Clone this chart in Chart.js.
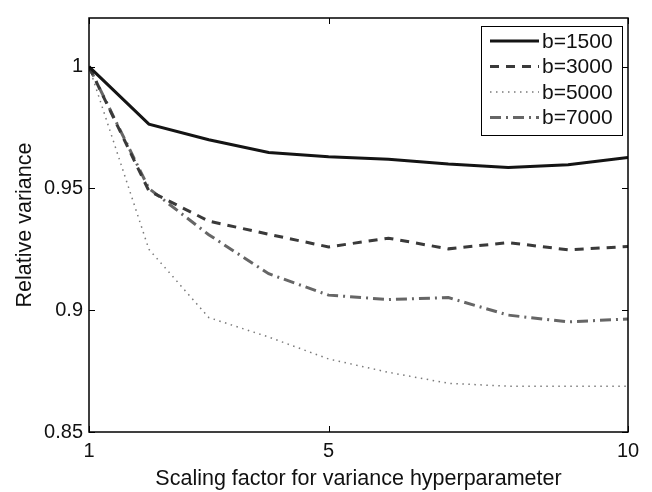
<!DOCTYPE html>
<html>
<head>
<meta charset="utf-8">
<script src="https://cdn.jsdelivr.net/npm/chart.js@4"></script>
<style>
  html, body { margin: 0; padding: 0; background: #fff; }
  #wrap { width: 652px; height: 492px; }
</style>
</head>
<body>
<div id="wrap"><canvas id="chart" width="652" height="492"></canvas></div>
<script>
// scaling factor values on the x axis
const scaleFactors = [1, 2, 3, 4, 5, 6, 7, 8, 9, 10];

// relative variance for each b
const b1500 = [1.0, 0.9764, 0.9700, 0.9648, 0.9630, 0.9620, 0.9600, 0.9586, 0.9597, 0.9627];
const b3000 = [1.0, 0.9490, 0.9366, 0.9312, 0.9260, 0.9296, 0.9252, 0.9278, 0.9248, 0.9262];
const b5000 = [1.0, 0.9250, 0.8970, 0.8890, 0.8800, 0.8745, 0.8700, 0.8688, 0.8688, 0.8688];
const b7000 = [1.0, 0.9500, 0.9310, 0.9150, 0.9062, 0.9044, 0.9052, 0.8980, 0.8952, 0.8964];

const xTicks = [1, 5, 10];
const yTicks = [0.85, 0.9, 0.95, 1];

const FONT = "'Liberation Sans', Arial, sans-serif";

function pts(vals) {
    return vals.map((v, i) => ({ x: scaleFactors[i], y: v }));
}

const seriesDefs = [
    { label: "b=1500", data: b1500, color: "#141414", width: 3, dash: [] },
    { label: "b=3000", data: b3000, color: "#3a3a3a", width: 3, dash: [9, 7] },
    { label: "b=5000", data: b5000, color: "#7a7a7a", width: 1.5, dash: [1.5, 4.5] },
    { label: "b=7000", data: b7000, color: "#666666", width: 3, dash: [11, 5, 2, 5] }
];

// box around the plot with inward ticks, like matlab
const framePlugin = {
    id: "frame",
    afterDatasetsDraw(chart) {
        const { ctx, chartArea: a, scales } = chart;
        ctx.save();
        ctx.strokeStyle = "#000";
        ctx.lineWidth = 1.5;
        ctx.setLineDash([]);
        ctx.strokeRect(a.left, a.top, a.right - a.left, a.bottom - a.top);
        ctx.lineWidth = 1;
        const t = 6;
        for (const v of xTicks) {
            const x = Math.round(scales.x.getPixelForValue(v)) + 0.5;
            ctx.beginPath();
            ctx.moveTo(x, a.bottom); ctx.lineTo(x, a.bottom - t);
            ctx.moveTo(x, a.top); ctx.lineTo(x, a.top + t);
            ctx.stroke();
        }
        for (const v of yTicks) {
            const y = Math.round(scales.y.getPixelForValue(v)) + 0.5;
            ctx.beginPath();
            ctx.moveTo(a.left, y); ctx.lineTo(a.left + t, y);
            ctx.moveTo(a.right, y); ctx.lineTo(a.right - t, y);
            ctx.stroke();
        }
        ctx.restore();
    }
};

// legend box in the top right corner
const legendPlugin = {
    id: "boxLegend",
    afterDraw(chart) {
        const { ctx, chartArea: a } = chart;
        const boxW = 141, boxH = 109;
        const bx = a.right - 6 - boxW, by = a.top + 8;
        ctx.save();
        ctx.fillStyle = "#fff";
        ctx.fillRect(bx, by, boxW, boxH);
        ctx.strokeStyle = "#000";
        ctx.lineWidth = 1;
        ctx.strokeRect(bx + 0.5, by + 0.5, boxW, boxH);
        ctx.font = "21px " + FONT;
        ctx.textBaseline = "middle";
        seriesDefs.forEach((s, i) => {
            const y = by + 15 + i * 25.5;
            ctx.strokeStyle = s.color;
            ctx.lineWidth = s.width;
            ctx.setLineDash(s.dash);
            ctx.beginPath();
            ctx.moveTo(bx + 9, y);
            ctx.lineTo(bx + 58, y);
            ctx.stroke();
            ctx.setLineDash([]);
            ctx.fillStyle = "#111";
            ctx.fillText(s.label, bx + 61, y + 1);
        });
        ctx.restore();
    }
};

new Chart(document.getElementById("chart"), {
    type: "line",
    data: {
        datasets: seriesDefs.map(s => ({
            label: s.label,
            data: pts(s.data),
            borderColor: s.color,
            borderWidth: s.width,
            borderDash: s.dash,
            pointRadius: 0,
            tension: 0,
            fill: false
        }))
    },
    options: {
        responsive: false,
        animation: false,
        layout: { padding: { top: 8, right: 24, left: 0, bottom: 0 } },
        plugins: {
            legend: { display: false },
            tooltip: { enabled: false }
        },
        scales: {
            x: {
                type: "linear",
                min: 1,
                max: 10,
                afterBuildTicks: (scale) => { scale.ticks = xTicks.map(v => ({ value: v })); },
                afterFit: (scale) => { scale.height = 60; },
                grid: { display: false, drawTicks: false },
                border: { display: false },
                ticks: {
                    color: "#111",
                    font: { family: FONT, size: 20, lineHeight: 1.2 },
                    padding: 7,
                    maxRotation: 0,
                    callback: (v) => String(v)
                },
                title: {
                    display: true,
                    text: "Scaling factor for variance hyperparameter",
                    color: "#111",
                    font: { family: FONT, size: 21.5, lineHeight: 1 },
                    padding: { top: 2, bottom: 2 }
                }
            },
            y: {
                min: 0.85,
                max: 1.02,
                afterBuildTicks: (scale) => { scale.ticks = yTicks.map(v => ({ value: v })); },
                afterFit: (scale) => { scale.width = 89; },
                grid: { display: false, drawTicks: false },
                border: { display: false },
                ticks: {
                    color: "#111",
                    font: { family: FONT, size: 20 },
                    padding: 6,
                    callback: (v) => String(v)
                },
                title: {
                    display: true,
                    text: "Relative variance",
                    color: "#111",
                    font: { family: FONT, size: 21.5, lineHeight: 1 },
                    padding: { top: 14, bottom: 14 }
                }
            }
        }
    },
    plugins: [framePlugin, legendPlugin]
});
</script>
</body>
</html>
